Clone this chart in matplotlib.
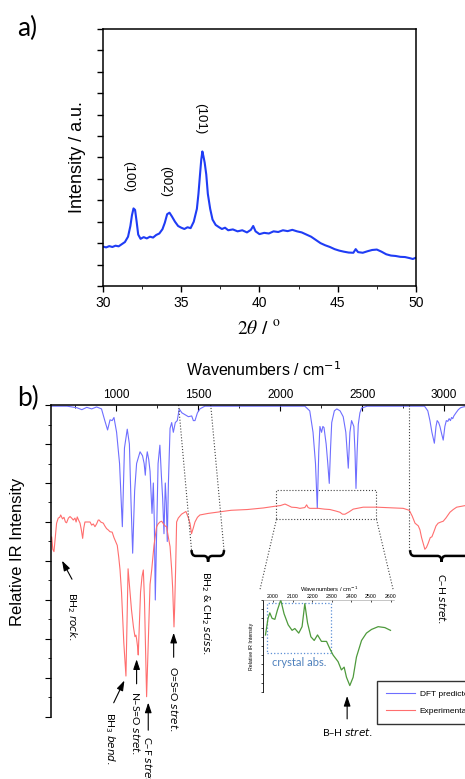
import matplotlib
matplotlib.use("Agg")
import matplotlib.pyplot as plt
from matplotlib.lines import Line2D
from matplotlib.patches import Rectangle, PathPatch
from matplotlib.path import Path
from matplotlib.ticker import MultipleLocator

plt.rcParams['font.family'] = ['Liberation Sans', 'DejaVu Sans']
ann_font = ['Lato', 'DejaVu Sans']

# ---- a) XRD pattern ----
xrd_2theta = [30.0, 30.2, 30.4, 30.6, 30.8, 31.0, 31.2, 31.4, 31.6, 31.75, 31.85, 31.95, 32.05,
              32.15, 32.25, 32.4, 32.6, 32.8, 33.0, 33.2, 33.4, 33.6, 33.8, 33.95, 34.1, 34.25,
              34.4, 34.6, 34.8, 35.0, 35.2, 35.4, 35.6, 35.8, 36.0, 36.1, 36.2, 36.28, 36.35,
              36.42, 36.5, 36.6, 36.7, 36.85, 37.0, 37.2, 37.4, 37.6, 37.8, 38.0, 38.3, 38.6,
              38.9, 39.2, 39.45, 39.6, 39.75, 40.0, 40.3, 40.6, 40.9, 41.2, 41.5, 41.8, 42.1,
              42.4, 42.7, 43.0, 43.3, 43.6, 43.9, 44.2, 44.5, 44.8, 45.1, 45.4, 45.7, 46.0,
              46.15, 46.3, 46.6, 46.9, 47.2, 47.5, 47.8, 48.1, 48.4, 48.7, 49.0, 49.3, 49.6,
              49.8, 50.0]
xrd_int = [1.84, 1.8, 1.86, 1.82, 1.88, 1.85, 1.95, 2.05, 2.3, 2.8, 3.3, 3.62, 3.55,
           3.0, 2.4, 2.2, 2.28, 2.22, 2.3, 2.26, 2.38, 2.45, 2.65, 2.95, 3.35, 3.42,
           3.25, 3.0, 2.8, 2.72, 2.66, 2.74, 2.7, 3.0, 3.6, 4.3, 5.2, 5.9, 6.28,
           6.05, 5.75, 5.2, 4.3, 3.6, 3.1, 2.85, 2.75, 2.66, 2.72, 2.6, 2.64, 2.55,
           2.6, 2.5, 2.62, 2.8, 2.55, 2.42, 2.48, 2.45, 2.55, 2.52, 2.6, 2.56, 2.62,
           2.55, 2.5, 2.4, 2.3, 2.15, 2.0, 1.9, 1.82, 1.72, 1.65, 1.6, 1.56, 1.55,
           1.72, 1.58, 1.55, 1.62, 1.68, 1.7, 1.6, 1.48, 1.42, 1.4, 1.36, 1.35, 1.3,
           1.26, 1.32]
xrd_labels = ['(100)', '(002)', '(101)']
xrd_label_x = [31.6, 34.0, 36.2]
xrd_label_y = [5.1, 4.9, 7.8]

# ---- b) IR spectra ----
dft_wn = [600, 700, 760, 790, 820, 850, 880, 910, 930, 947, 962, 975, 986, 1002, 1020, 1037,
          1050, 1067, 1080, 1090, 1100, 1112, 1124, 1145, 1160, 1170, 1177, 1183, 1189, 1198,
          1206, 1218, 1226, 1232, 1238, 1245, 1255, 1266, 1275, 1283, 1291, 1299, 1305, 1311,
          1318, 1328, 1338, 1348, 1360, 1372, 1384, 1400, 1420, 1440, 1460, 1470, 1480, 1495,
          1510, 1540, 2150, 2180, 2200, 2215, 2226, 2235, 2242, 2252, 2260, 2267, 2280, 2290,
          2299, 2307, 2314, 2330, 2345, 2365, 2384, 2400, 2415, 2425, 2435, 2449, 2456, 2462,
          2469, 2476, 2486, 2496, 2530, 2880, 2900, 2913, 2925, 2940, 2950, 2957, 2966, 2974,
          2985, 2994, 3004, 3013, 3022, 3030, 3038, 3045, 3052, 3059, 3072, 3086, 3100, 3116,
          3140, 3200]
dft_int = [7.97, 7.97, 7.93, 7.88, 7.94, 7.9, 7.95, 7.9, 7.6, 7.36, 7.62, 7.6, 7.68, 7.3, 6.5, 4.88,
           6.9, 7.38, 7.0, 5.5, 4.2, 5.8, 6.5, 6.8, 6.7, 6.5, 6.2, 6.6, 6.8, 6.6,
           6.3, 5.22, 6.0, 5.0, 3.0, 4.5, 6.5, 6.97, 6.2, 5.6, 4.7, 6.0, 5.5, 4.5,
           6.0, 7.4, 7.55, 7.3, 7.55, 7.6, 7.9, 7.8, 7.75, 7.7, 7.72, 7.6, 7.6, 7.8,
           7.9, 7.97, 7.97, 7.85, 7.3, 6.5, 5.35, 6.8, 7.45, 7.3, 7.45, 7.42, 7.0, 6.5,
           5.99, 6.9, 7.55, 7.85, 7.9, 7.85, 7.7, 7.3, 6.38, 7.3, 7.6, 7.45, 6.8, 5.86,
           6.8, 7.5, 7.8, 7.92, 7.97, 7.97, 7.85, 7.6, 7.3, 7.02, 7.45, 7.6, 7.55, 7.45,
           7.25, 7.1, 7.45, 7.6, 7.58, 7.65, 7.6, 7.68, 7.65, 7.72, 7.8, 7.88, 7.93, 7.95,
           7.97, 7.97]

exp_wn = [600, 606, 613, 620, 628, 636, 646, 655, 661, 672, 681, 690, 697, 708, 718, 728, 738,
          748, 755, 762, 770, 779, 787, 795, 802, 809, 818, 829, 840, 850, 860, 870, 880, 890,
          896, 905, 921, 930, 941, 950, 962, 975, 986, 996, 1006, 1015, 1023, 1032, 1046, 1059,
          1066, 1072, 1080, 1093, 1105, 1114, 1120, 1124, 1130, 1134, 1140, 1148, 1157, 1165,
          1172, 1178, 1185, 1192, 1199, 1206, 1216, 1230, 1246, 1255, 1266, 1277, 1288, 1297,
          1307, 1318, 1328, 1338, 1344, 1348, 1352, 1356, 1362, 1368, 1378, 1398, 1425, 1440,
          1450, 1459, 1470, 1480, 1495, 1510, 1560, 1612, 1700, 1800, 1897, 1978, 2000, 2029,
          2050, 2069, 2100, 2120, 2150, 2161, 2170, 2181, 2232, 2270, 2303, 2340, 2364, 2380,
          2395, 2420, 2445, 2506, 2588, 2700, 2750, 2787, 2805, 2822, 2842, 2852, 2862, 2872,
          2882, 2892, 2902, 2915, 2925, 2937, 2950, 2963, 2980, 2994, 3010, 3035, 3055, 3076,
          3100, 3127, 3200]
exp_int = [4.55, 4.62, 4.3, 4.24, 4.6, 4.97, 5.1, 5.12, 5.18, 5.08, 5.12, 5.0, 4.98, 5.1, 5.14, 5.1, 5.05,
           5.1, 5.0, 5.13, 5.05, 4.97, 4.8, 4.58, 4.85, 5.0, 5.0, 5.0, 5.0, 4.92, 4.95, 4.88, 4.95, 5.05,
           5.05, 5.0, 4.97, 4.9, 4.83, 4.8, 4.75, 4.74, 4.6, 4.5, 4.4, 4.1, 3.77, 3.2, 1.9, 1.05,
           2.5, 3.8, 3.4, 2.74, 2.3, 2.06, 2.1, 2.0, 1.8, 1.59, 2.3, 3.2, 3.6, 3.77,
           3.0, 1.8, 0.52, 1.5, 2.5, 3.4, 3.77, 4.4, 4.88, 4.95, 5.0, 5.02, 4.95, 4.9,
           4.88, 4.6, 4.37, 3.77, 3.3, 2.8, 2.31, 2.8, 3.8, 5.0, 5.1, 5.2, 5.27, 5.1,
           4.96, 4.7, 4.85, 5.0, 5.12, 5.18, 5.22, 5.25, 5.3, 5.32, 5.36, 5.41, 5.42, 5.46,
           5.42, 5.38, 5.37, 5.35, 5.37, 5.44, 5.37, 5.35, 5.35, 5.33, 5.32, 5.28, 5.25, 5.2,
           5.2, 5.26, 5.33, 5.38, 5.38, 5.36, 5.35, 5.3, 5.15, 4.97, 4.9, 4.8, 4.6, 4.45,
           4.3, 4.35, 4.45, 4.6, 4.62, 4.75, 4.9, 4.97, 5.0, 5.02, 5.1, 5.25, 5.32, 5.38,
           5.4, 5.42, 5.43]

# inset: B-H stretch region of the experimental spectrum
inset_wn = [1961, 1974, 1983, 1995, 2009, 2022, 2039, 2056, 2077, 2097, 2111, 2131, 2148, 2162,
            2176, 2193, 2210, 2227, 2247, 2273, 2290, 2307, 2332, 2349, 2363, 2375, 2392, 2409,
            2426, 2452, 2477, 2503, 2537, 2571, 2600]
inset_int = [6.2, 8.0, 8.6, 8.0, 7.9, 8.9, 10.0, 8.5, 7.3, 6.7, 6.9, 6.4, 7.1, 9.6,
             7.5, 6.0, 5.6, 6.2, 5.5, 5.5, 4.7, 4.0, 3.3, 2.4, 2.7, 1.6, 0.7, 1.6,
             3.8, 5.6, 6.4, 6.8, 7.1, 7.0, 6.7]

fig = plt.figure(figsize=(4.65, 7.79), dpi=100)

# ===== panel a =====
ax1 = fig.add_axes([0.2215, 0.6329, 0.673, 0.33])
ax1.plot(xrd_2theta, xrd_int, color='#1f3cf5', lw=1.5)
ax1.set_xlim(30, 50)
ax1.set_ylim(0, 12)
ax1.xaxis.set_major_locator(MultipleLocator(5))
ax1.xaxis.set_minor_locator(MultipleLocator(2.5))
ax1.yaxis.set_major_locator(MultipleLocator(1))
ax1.set_yticklabels([])
ax1.tick_params(axis='both', direction='out', length=4, width=1, labelsize=10)
ax1.tick_params(axis='x', which='minor', direction='out', length=2.5)
for s in ax1.spines.values():
    s.set_linewidth(1.1)
for lab, lx, ly in zip(xrd_labels, xrd_label_x, xrd_label_y):
    ax1.text(lx, ly, lab, rotation=270, ha='center', va='center', fontsize=9.5)
ax1.text(-0.083, 0.5, 'Intensity / a.u.', transform=ax1.transAxes, rotation=90,
         ha='center', va='center', fontsize=13)
ax1.text(0.5, -0.17, r'$2\theta$ / $^{\mathrm{o}}$', transform=ax1.transAxes,
         ha='center', va='center', fontsize=14, math_fontfamily='stix')
fig.text(0.058, 0.963, 'a)', fontsize=19, family=ann_font, ha='center', va='center')

# ===== panel b =====
ax2 = fig.add_axes([0.109, 0.0796, 0.9168, 0.4005])
ax2.plot(dft_wn, dft_int, color='#6e6eff', lw=0.8)
ax2.plot(exp_wn, exp_int, color='#ff6e6e', lw=0.8)
ax2.set_xlim(600, 3200)
ax2.set_ylim(0, 8)
ax2.xaxis.tick_top()
ax2.xaxis.set_major_locator(MultipleLocator(500))
ax2.xaxis.set_minor_locator(MultipleLocator(250))
ax2.yaxis.set_major_locator(MultipleLocator(1))
ax2.yaxis.set_minor_locator(MultipleLocator(0.5))
ax2.set_yticklabels([])
ax2.tick_params(axis='x', which='major', direction='in', length=4, labelsize=8.5, pad=3)
ax2.tick_params(axis='x', which='minor', direction='in', length=2.5)
ax2.tick_params(axis='y', which='major', direction='out', length=4.5)
ax2.tick_params(axis='y', which='minor', direction='out', length=2.5)
ax2.spines['bottom'].set_visible(False)
ax2.spines['right'].set_visible(False)
ax2.spines['left'].set_linewidth(1.1)
ax2.spines['top'].set_linewidth(1.1)
ax2.text(0.5, 1.112, r'Wavenumbers / cm$^{-1}$', transform=ax2.transAxes,
         ha='center', va='center', fontsize=11.5)
ax2.text(-0.079, 0.53, 'Relative IR Intensity', transform=ax2.transAxes, rotation=90,
         ha='center', va='center', fontsize=12)
fig.text(0.06, 0.489, 'b)', fontsize=19, family=ann_font, ha='center', va='center')

guide = dict(color='#444444', ls=':', lw=0.8)
# zoom box and its connectors to the inset
zoom_x = [1977, 2587]
zoom_y = [5.07, 5.82]
ax2.add_patch(Rectangle((zoom_x[0], zoom_y[0]), zoom_x[1] - zoom_x[0], zoom_y[1] - zoom_y[0],
                        fill=False, **guide))
ax2.plot([zoom_x[0], 1876], [zoom_y[0], 3.26], **guide)
ax2.plot([zoom_x[1], 2689], [zoom_y[0], 3.26], **guide)
# BH2/CH2 scissoring guides
ax2.plot([1380, 1459], [8, 4.28], **guide)
ax2.plot([1576, 1657], [8, 4.28], **guide)
# C-H stretch guide
ax2.plot([2785, 2785], [8, 4.24], **guide)


def brace(ax, xa, xb, xm, y, d, r):
    verts = [(xa, y), (xa, y - d / 2), (xa + r, y - d / 2), (xm - r, y - d / 2),
             (xm, y - d / 2), (xm, y - d), (xm, y - d / 2), (xm + r, y - d / 2),
             (xb - r, y - d / 2), (xb, y - d / 2), (xb, y)]
    codes = [Path.MOVETO, Path.CURVE3, Path.CURVE3, Path.LINETO, Path.CURVE3, Path.CURVE3,
             Path.CURVE3, Path.CURVE3, Path.LINETO, Path.CURVE3, Path.CURVE3]
    ax.add_patch(PathPatch(Path(verts, codes), fill=False, lw=1.8, color='black',
                           clip_on=False))


brace(ax2, 1459, 1657, 1560, 4.28, 0.3, 25)
brace(ax2, 2792, 3178, 2984, 4.28, 0.3, 25)

arrow = dict(arrowstyle='-|>,head_length=0.6,head_width=0.2', color='black', lw=0.8)
ann_fs = 7.5
mf = 'dejavusans'
ax2.annotate('', xy=(661, 4.07), xytext=(738, 3.47), arrowprops=arrow)
ax2.text(728, 3.2, r'BH$_2$ $\it{rock.}$', rotation=270, ha='center', va='top',
         fontsize=ann_fs, family=ann_font, math_fontfamily=mf, clip_on=False)
ax2.annotate('', xy=(1057, 1.0), xytext=(977, 0.3), arrowprops=arrow, annotation_clip=False)
ax2.text(962, 0.12, r'BH$_3$ $\it{bend.}$', rotation=270, ha='center', va='top',
         fontsize=ann_fs, family=ann_font, math_fontfamily=mf, clip_on=False)
ax2.annotate('', xy=(1124, 1.55), xytext=(1124, 0.78), arrowprops=arrow)
ax2.text(1122, 0.66, r'N–S=O $\it{stret.}$', rotation=270, ha='center', va='top',
         fontsize=ann_fs, family=ann_font, math_fontfamily=mf, clip_on=False)
ax2.annotate('', xy=(1195, 0.44), xytext=(1195, -0.41), arrowprops=arrow, annotation_clip=False)
ax2.text(1195, -0.5, r'C–F $\it{stret.}$', rotation=270, ha='center', va='top',
         fontsize=ann_fs, family=ann_font, math_fontfamily=mf, clip_on=False)
ax2.annotate('', xy=(1350, 2.23), xytext=(1350, 1.46), arrowprops=arrow)
ax2.text(1350, 1.32, r'O=S=O $\it{stret.}$', rotation=270, ha='center', va='top',
         fontsize=ann_fs, family=ann_font, math_fontfamily=mf, clip_on=False)
ax2.text(1548, 3.75, r'BH$_2$ & CH$_2$ $\it{sciss.}$', rotation=270, ha='center', va='top',
         fontsize=ann_fs, family=ann_font, math_fontfamily=mf, clip_on=False)
ax2.text(2984, 3.7, r'C–H $\it{stret.}$', rotation=270, ha='center', va='top',
         fontsize=ann_fs, family=ann_font, math_fontfamily=mf, clip_on=False)
ax2.annotate('', xy=(2408, 0.61), xytext=(2408, -0.12), arrowprops=arrow, annotation_clip=False)
ax2.text(2408, -0.38, r'B–H $\it{stret.}$', ha='center', va='center',
         fontsize=ann_fs, family=ann_font, math_fontfamily=mf, clip_on=False)

handles = [Line2D([], [], color='#6e6eff', lw=0.8), Line2D([], [], color='#ff6e6e', lw=0.8)]
ax2.legend(handles, ['DFT predicted', 'Experimental'], loc='upper left',
           bbox_to_anchor=(0.8114, 0.1262), bbox_transform=fig.transFigure, borderaxespad=0,
           fontsize=6, handlelength=3.4, handletextpad=0.6, labelspacing=1.1, borderpad=1.1,
           fancybox=False, edgecolor='#333333', framealpha=1)

# ===== inset =====
ax3 = fig.add_axes([0.5663, 0.1117, 0.2819, 0.1181])
ax3.patch.set_alpha(0)
ax3.plot(inset_wn, inset_int, color='#4e9a3c', lw=0.9)
ax3.set_xlim(1950, 2620)
ax3.set_ylim(0, 10)
ax3.xaxis.tick_top()
ax3.xaxis.set_label_position('top')
ax3.xaxis.set_major_locator(MultipleLocator(100))
ax3.yaxis.set_major_locator(MultipleLocator(1))
ax3.set_yticklabels([])
ax3.tick_params(axis='x', direction='in', length=1.5, width=0.5, labelsize=3.8, pad=1)
ax3.tick_params(axis='y', direction='out', length=1.5, width=0.5)
ax3.spines['right'].set_visible(False)
ax3.spines['bottom'].set_visible(False)
ax3.spines['left'].set_linewidth(0.6)
ax3.spines['top'].set_linewidth(0.4)
ax3.spines['top'].set_color('#999999')
ax3.set_xlabel(r'Wavenumbers / cm$^{-1}$', fontsize=4.2, labelpad=1)
ax3.set_ylabel('Relative IR Intensity', fontsize=3.8, labelpad=2)
ax3.add_patch(Rectangle((1971, 4.2), 327, 5.5, fill=False, ls=':', lw=0.9, color='#5b8fd6'))
ax3.text(2133, 3.2, 'crystal abs.', ha='center', va='center', fontsize=8,
         color='#4f81bd', family=ann_font)

fig.savefig('out.png', dpi=100)
